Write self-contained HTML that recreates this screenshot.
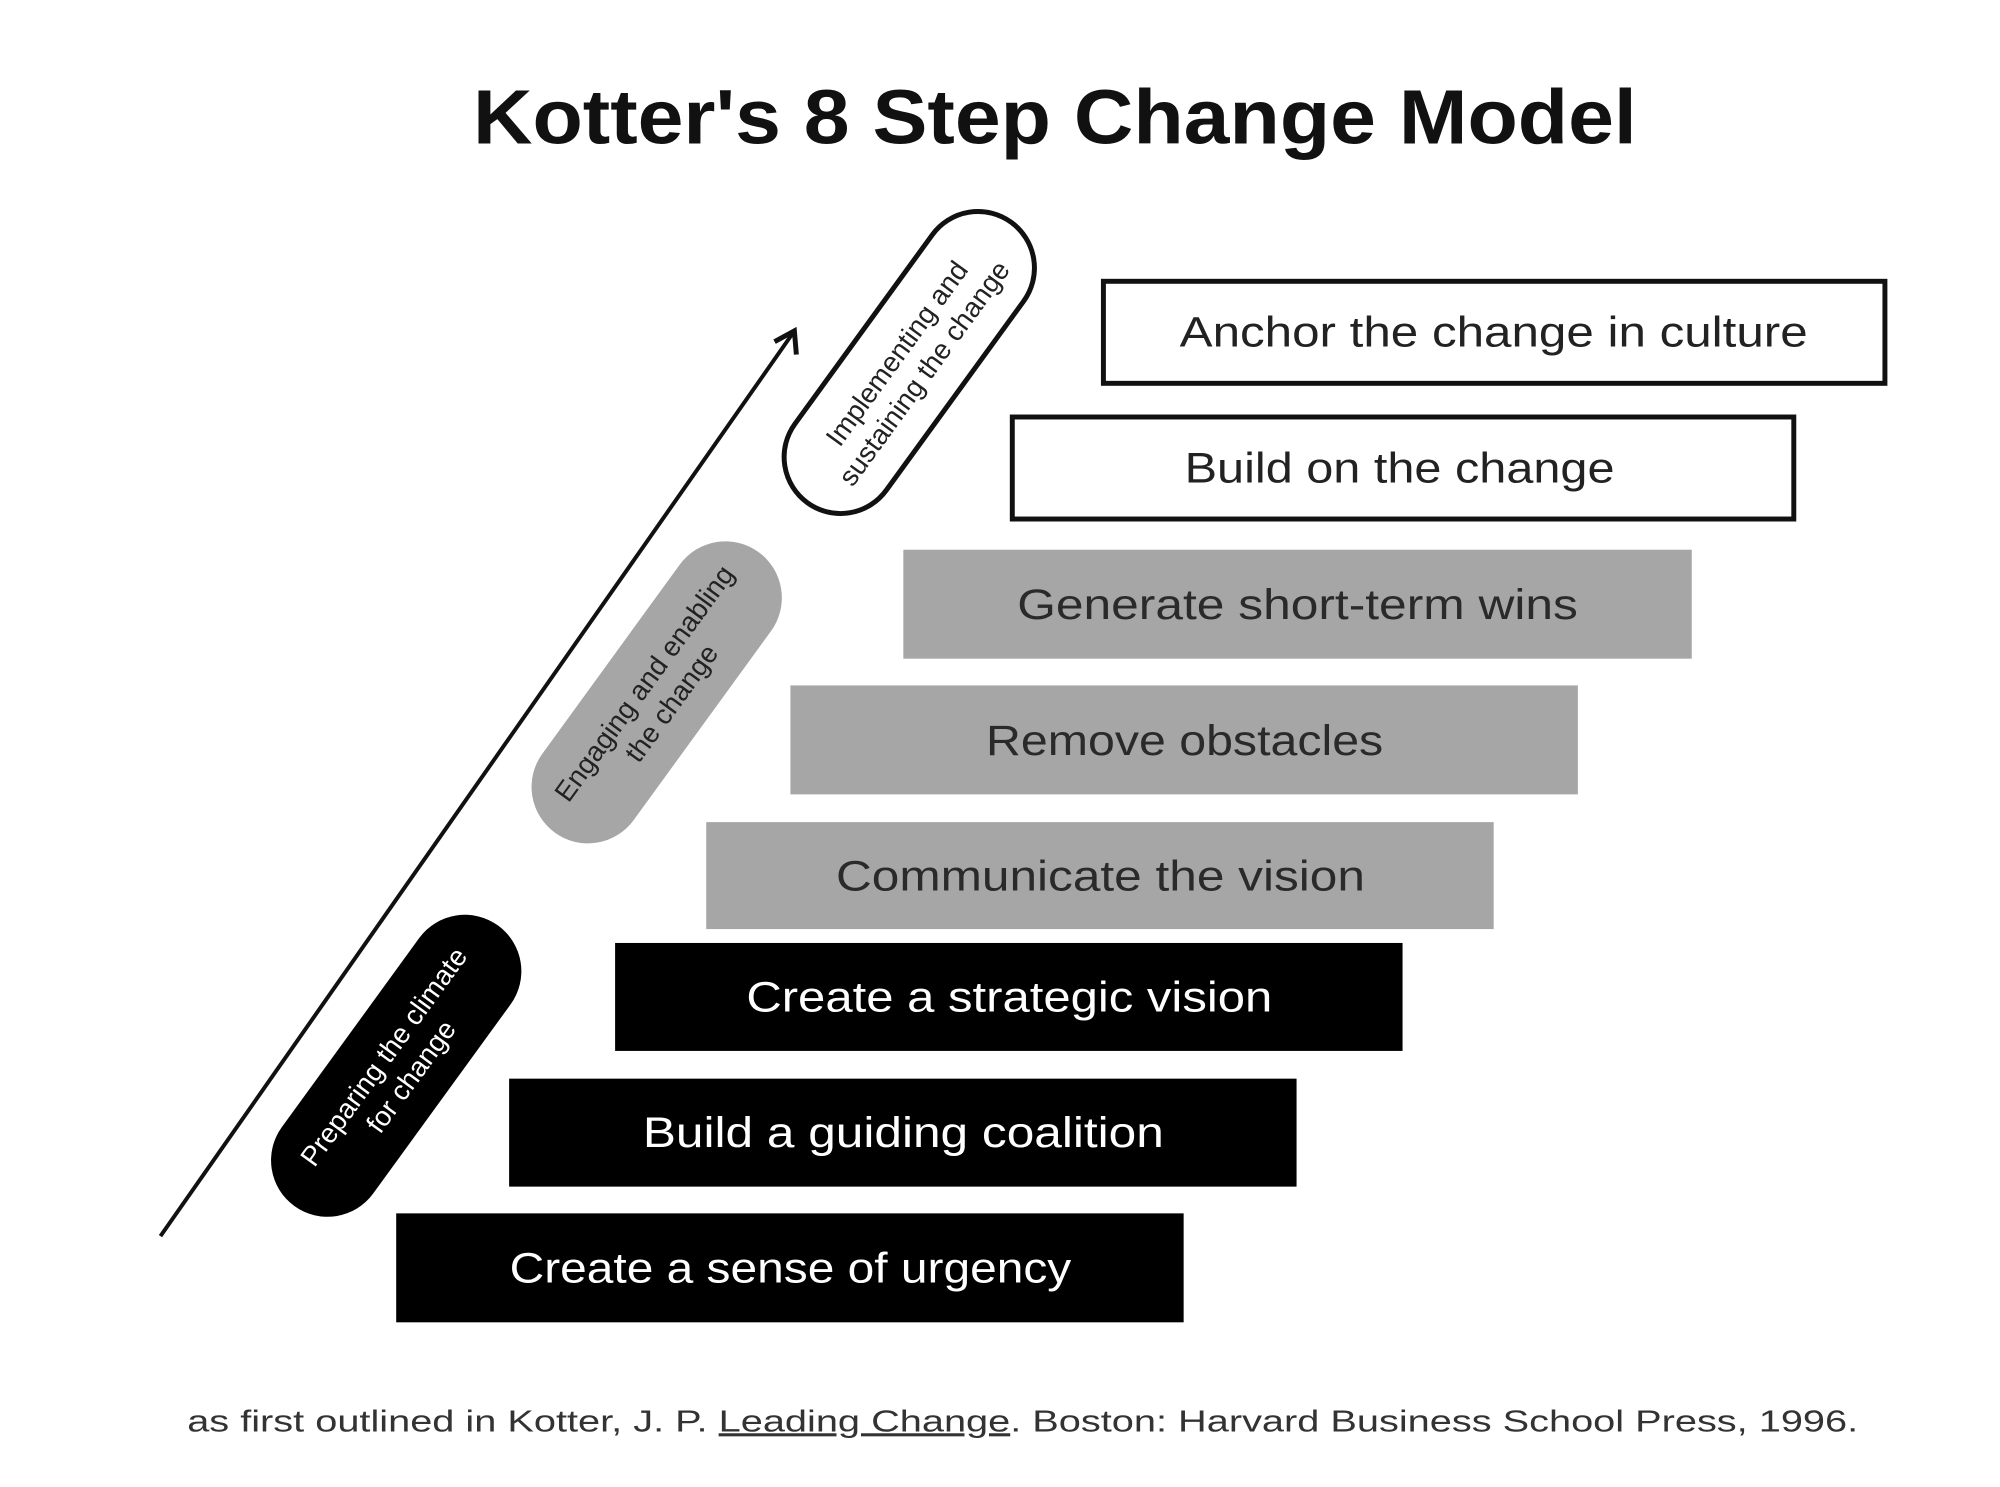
<!DOCTYPE html>
<html><head><meta charset="utf-8"><style>
html,body{margin:0;padding:0;background:#fff;}
svg{display:block;}
text{font-family:"Liberation Sans",sans-serif;}
</style></head><body>
<svg width="2000" height="1487" viewBox="0 0 2000 1487" xmlns="http://www.w3.org/2000/svg">
<rect width="2000" height="1487" fill="#fff"/>
<g transform="scale(0.9905)">
<text x="1065" y="145" font-size="78" font-weight="bold" text-anchor="middle" fill="#111" textLength="1175" lengthAdjust="spacingAndGlyphs">Kotter's 8 Step Change Model</text>

<rect x="1114" y="284" width="789" height="103" fill="#fff" stroke="#111" stroke-width="5"/>
<text x="1508" y="350" font-size="43" text-anchor="middle" fill="#222" textLength="634" lengthAdjust="spacingAndGlyphs">Anchor the change in culture</text>
<rect x="1022" y="421" width="789" height="103" fill="#fff" stroke="#111" stroke-width="5"/>
<text x="1413" y="487" font-size="43" text-anchor="middle" fill="#222" textLength="434" lengthAdjust="spacingAndGlyphs">Build on the change</text>
<rect x="912" y="555" width="796" height="110" fill="#a6a6a6"/>
<text x="1310" y="625" font-size="43" text-anchor="middle" fill="#2a2a2a" textLength="566" lengthAdjust="spacingAndGlyphs">Generate short-term wins</text>
<rect x="798" y="692" width="795" height="110" fill="#a6a6a6"/>
<text x="1196" y="762" font-size="43" text-anchor="middle" fill="#2a2a2a" textLength="401" lengthAdjust="spacingAndGlyphs">Remove obstacles</text>
<rect x="713" y="830" width="795" height="108" fill="#a6a6a6"/>
<text x="1111" y="899" font-size="43" text-anchor="middle" fill="#2a2a2a" textLength="534" lengthAdjust="spacingAndGlyphs">Communicate the vision</text>
<rect x="621" y="952" width="795" height="109" fill="#000"/>
<text x="1019" y="1021" font-size="43" text-anchor="middle" fill="#fff" textLength="531" lengthAdjust="spacingAndGlyphs">Create a strategic vision</text>
<rect x="514" y="1089" width="795" height="109" fill="#000"/>
<text x="912" y="1158" font-size="43" text-anchor="middle" fill="#fff" textLength="526" lengthAdjust="spacingAndGlyphs">Build a guiding coalition</text>
<rect x="400" y="1225" width="795" height="110" fill="#000"/>
<text x="798" y="1295" font-size="43" text-anchor="middle" fill="#fff" textLength="567" lengthAdjust="spacingAndGlyphs">Create a sense of urgency</text>

<line x1="162" y1="1248" x2="800" y2="337" stroke="#111" stroke-width="4"/>
<polyline points="782,345 802,334 804,358" fill="none" stroke="#111" stroke-width="5"/>

<g transform="translate(918,366) rotate(-54)">
<rect x="-175" y="-57" width="350" height="114" rx="57" fill="#fff" stroke="#111" stroke-width="5"/>
<text x="0" y="-6" font-size="28" text-anchor="middle" fill="#222">Implementing and</text>
<text x="0" y="28" font-size="28" text-anchor="middle" fill="#222">sustaining the change</text>
</g>
<g transform="translate(663,699) rotate(-54)">
<rect x="-175" y="-57" width="350" height="114" rx="57" fill="#a6a6a6"/>
<text x="0" y="-6" font-size="28" text-anchor="middle" fill="#222">Engaging and enabling</text>
<text x="0" y="28" font-size="28" text-anchor="middle" fill="#222">the change</text>
</g>
<g transform="translate(400,1076) rotate(-54)">
<rect x="-175" y="-57" width="350" height="114" rx="57" fill="#000"/>
<text x="0" y="-6" font-size="28" text-anchor="middle" fill="#fff">Preparing the climate</text>
<text x="0" y="28" font-size="28" text-anchor="middle" fill="#fff">for change</text>
</g>

<text x="189" y="1445" font-size="31" fill="#333" textLength="1687" lengthAdjust="spacingAndGlyphs">as first outlined in Kotter, J. P. <tspan text-decoration="underline">Leading Change</tspan>. Boston: Harvard Business School Press, 1996.</text>
</g>
</svg>
</body></html>
